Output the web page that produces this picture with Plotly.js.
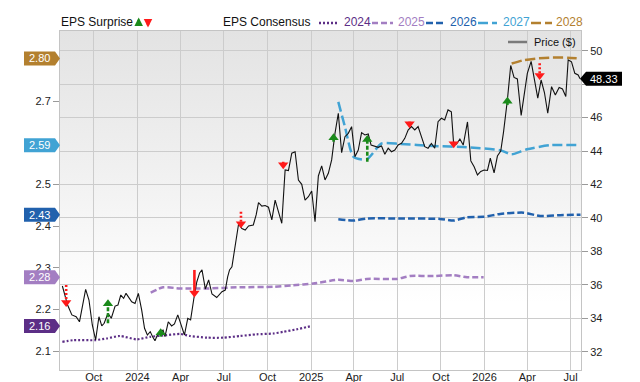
<!DOCTYPE html>
<html><head><meta charset="utf-8">
<script src="https://cdn.plot.ly/plotly-3.0.1.min.js"></script>
<style>html,body{margin:0;padding:0;background:#fff}#chart{width:640px;height:382px}</style>
</head><body><div id="chart"></div>
<script>
// ---------------- DATA ----------------
const priceDates = ['2023-07-27','2023-08-07','2023-08-16','2023-08-25','2023-09-01','2023-09-08','2023-09-14','2023-09-21','2023-09-28','2023-10-05','2023-10-12','2023-10-18','2023-10-23','2023-10-31','2023-11-07','2023-11-15','2023-11-21','2023-11-27','2023-12-03','2023-12-08','2023-12-14','2023-12-20','2023-12-27','2024-01-03','2024-01-10','2024-01-16','2024-01-22','2024-01-28','2024-02-02','2024-02-07','2024-02-12','2024-02-18','2024-02-24','2024-02-28','2024-03-06','2024-03-13','2024-03-19','2024-03-26','2024-04-02','2024-04-09','2024-04-16','2024-04-22','2024-04-29','2024-05-05','2024-05-11','2024-05-16','2024-05-23','2024-05-30','2024-06-06','2024-06-16','2024-06-27','2024-07-04','2024-07-09','2024-07-13','2024-07-18','2024-07-25','2024-08-01','2024-08-08','2024-08-15','2024-08-22','2024-09-01','2024-09-07','2024-09-12','2024-09-19','2024-09-26','2024-10-03','2024-10-10','2024-10-17','2024-10-24','2024-10-31','2024-11-07','2024-11-14','2024-11-21','2024-11-28','2024-12-05','2024-12-12','2024-12-19','2024-12-26','2025-01-02','2025-01-09','2025-01-16','2025-01-23','2025-01-30','2025-02-06','2025-02-13','2025-02-20','2025-02-27','2025-03-06','2025-03-13','2025-03-20','2025-03-27','2025-04-03','2025-04-10','2025-04-17','2025-04-24','2025-05-01','2025-05-07','2025-05-15','2025-05-22','2025-05-29','2025-06-05','2025-06-12','2025-06-19','2025-06-26','2025-07-03','2025-07-10','2025-07-17','2025-07-24','2025-07-31','2025-08-07','2025-08-14','2025-08-21','2025-08-28','2025-09-04','2025-09-11','2025-09-18','2025-09-25','2025-10-02','2025-10-09','2025-10-16','2025-10-23','2025-10-28','2025-11-03','2025-11-10','2025-11-17','2025-11-26','2025-12-03','2025-12-10','2025-12-17','2025-12-24','2025-12-31','2026-01-07','2026-01-13','2026-01-21','2026-01-28','2026-02-04','2026-02-10','2026-02-18','2026-02-25','2026-03-04','2026-03-11','2026-03-19','2026-03-26','2026-04-01','2026-04-09','2026-04-16','2026-04-23','2026-04-30','2026-05-07','2026-05-14','2026-05-22','2026-05-30','2026-06-07','2026-06-14','2026-06-21','2026-06-26','2026-07-03','2026-07-10','2026-07-17','2026-07-21'];
const priceValues = [35.93,34.79,34.20,34.09,33.79,34.89,35.73,35.09,33.60,32.70,34.09,33.54,33.70,34.30,34.00,34.73,34.79,35.39,35.19,35.49,35.25,34.99,34.89,35.49,34.49,33.40,33.00,33.20,32.90,32.66,33.00,33.20,33.30,32.90,33.79,33.54,33.66,34.20,33.60,33.00,34.00,33.90,35.21,36.17,36.71,36.89,35.75,36.29,35.45,35.24,35.59,35.69,36.47,36.89,37.08,38.26,39.64,39.37,39.28,39.52,39.58,40.18,40.91,40.71,40.74,40.64,39.88,41.07,40.37,39.68,42.87,42.83,43.87,43.96,42.27,42.01,41.07,41.27,41.61,39.78,42.51,43.11,42.27,42.67,43.47,45.06,46.26,43.90,44.86,45.06,45.46,43.66,44.06,45.10,44.96,45.02,44.36,44.30,44.22,44.30,43.81,44.17,43.96,44.06,44.36,44.46,44.76,45.26,45.46,45.26,45.46,44.86,44.26,44.17,44.46,44.17,45.76,45.96,45.86,46.46,46.35,44.36,44.42,44.72,44.36,45.74,43.41,43.06,42.57,42.78,42.87,42.84,43.57,42.69,43.70,44.00,45.16,47.05,49.12,48.40,48.31,46.13,47.47,48.65,49.36,48.25,47.16,48.25,47.50,46.26,47.85,47.35,47.80,47.71,47.26,49.45,49.34,48.65,48.55,48.33];

const consensusYears = ['2024','2025','2026','2027','2028'];
const eps2024Dates = ['2023-07-27','2023-08-19','2023-10-03','2023-10-28','2023-11-25','2023-12-30','2024-01-28','2024-03-03','2024-03-31','2024-04-21','2024-05-27','2024-06-30','2024-08-04','2024-09-08','2024-10-13','2024-11-03','2024-12-01','2025-01-02'];
const eps2024 = [2.122,2.126,2.126,2.130,2.136,2.128,2.134,2.138,2.141,2.136,2.132,2.132,2.136,2.140,2.142,2.146,2.152,2.160];
const eps2025Dates = ['2024-01-29','2024-02-24','2024-03-31','2024-05-27','2024-08-04','2024-10-13','2024-11-24','2025-01-05','2025-02-27','2025-03-31','2025-04-28','2025-06-30','2025-07-28','2025-09-15','2025-10-28','2025-11-25','2025-12-30'];
const eps2025 = [2.240,2.253,2.250,2.250,2.253,2.254,2.258,2.262,2.271,2.268,2.273,2.273,2.280,2.280,2.282,2.277,2.277];
const eps2026Dates = ['2025-02-27','2025-03-31','2025-04-28','2025-07-07','2025-09-29','2025-10-28','2025-11-25','2025-12-30','2026-02-03','2026-03-24','2026-04-28','2026-06-09','2026-07-22'];
const eps2026 = [2.416,2.413,2.418,2.418,2.417,2.413,2.421,2.422,2.429,2.432,2.424,2.426,2.427];
const eps2027Dates = ['2025-02-27','2025-03-13','2025-03-31','2025-04-28','2025-05-29','2025-07-07','2025-09-15','2025-11-25','2026-02-03','2026-02-27','2026-03-31','2026-05-19','2026-07-22'];
const eps2027 = [2.698,2.638,2.566,2.560,2.598,2.597,2.592,2.589,2.582,2.572,2.584,2.594,2.594];
const eps2028Dates = ['2026-02-27','2026-03-24','2026-04-21','2026-05-19','2026-06-24','2026-07-20'];
const eps2028 = [2.790,2.798,2.802,2.804,2.804,2.802];

const surpriseDates = ['2023-08-04','2023-10-31','2024-02-19','2024-04-30','2024-08-06','2024-11-03','2025-02-17','2025-04-29','2025-07-27','2025-10-28','2026-02-18','2026-04-27'];
const surpriseFrom = [35.99,33.70,32.90,36.89,40.37,43.36,44.56,43.36,45.76,44.56,46.75,49.25];
const surpriseTo   = [34.67,35.13,33.40,35.24,39.38,42.91,45.06,44.96,45.36,44.17,47.25,48.25];

const xTickDates = ['2023-10-01','2024-01-01','2024-04-01','2024-07-01','2024-10-01','2025-01-01','2025-04-01','2025-07-01','2025-10-01','2026-01-01','2026-04-01','2026-07-01'];
const xTickLabels = ['Oct','2024','Apr','Jul','Oct','2025','Apr','Jul','Oct','2026','Apr','Jul'];
const priceTicks = [32,34,36,38,40,42,44,46,48,50];
const priceTickLabels = ['32','34','36','38','40','42','44','46','','50'];
const epsTicks = [2.1,2.2,2.3,2.4,2.5,2.7];
const epsTickLabels = ['2.1','2.2','2.3','2.4','2.5','2.7'];

// ---------------- STYLE ----------------
const W = 640, H = 382;
const M = {l:60, r:59, t:31, b:12};
const plotW = W - M.l - M.r, plotH = H - M.t - M.b;
const epsRange = [2.0544, 2.868];
const priceRange = [30.906, 51.18];
const xRange = ['2023-07-22', '2026-07-23'];
const FONT = 'Liberation Sans, Arial, sans-serif';
const seriesStyle = {
  '2024': {color:'#5c2e86', dash:'2px,2px', width:2.2},
  '2025': {color:'#a37ec2', dash:'6px,3px', width:2.5},
  '2026': {color:'#2161ad', dash:'7px,3px', width:2.5},
  '2027': {color:'#41a3d4', dash:'10px,4px', width:2.5},
  '2028': {color:'#b3802f', dash:'10px,4px', width:2.5}
};
const shaftDash = ['2px,2px','4px,2px','4px,2px','solid','2px,2px','2px,2px','4px,2px','4px,2px','2px,2px','2px,2px','4px,2px','2px,2px'];
const UP = '#1a8a1a', DOWN = '#ff1a1a';

const pxX = px => (px - M.l) / plotW;
const pxY = py => (H - M.b - py) / plotH;
const epsP = v => (v - epsRange[0]) / (epsRange[1] - epsRange[0]);
const priceP = v => (v - priceRange[0]) / (priceRange[1] - priceRange[0]);
const pricePerPx = (priceRange[1] - priceRange[0]) / plotH;

const series = {
  '2024': [eps2024Dates, eps2024], '2025': [eps2025Dates, eps2025], '2026': [eps2026Dates, eps2026],
  '2027': [eps2027Dates, eps2027], '2028': [eps2028Dates, eps2028]
};

const traces = [];
consensusYears.forEach(yr => {
  const s = seriesStyle[yr];
  traces.push({x: series[yr][0], y: series[yr][1], type:'scatter', mode:'lines', yaxis:'y',
    line:{color:s.color, dash:s.dash, width:s.width, shape:'spline', smoothing:0.6}, hoverinfo:'skip'});
});
traces.push({x: priceDates, y: priceValues, type:'scatter', mode:'lines', yaxis:'y2',
  line:{color:'#111', width:1.1}, hoverinfo:'skip'});

// surprise arrows
const headSize = 9, headR = headSize/2;
const upHeads = {x:[], y:[]}, downHeads = {x:[], y:[]};
surpriseDates.forEach((d, i) => {
  const up = surpriseTo[i] > surpriseFrom[i];
  const off = headR * pricePerPx * (up ? -1 : 1);
  const center = surpriseTo[i] + off;
  traces.push({x:[d, d], y:[surpriseFrom[i], center], type:'scatter', mode:'lines', yaxis:'y2',
    line:{color: up ? UP : DOWN, width:2.6, dash: shaftDash[i]}, hoverinfo:'skip'});
  const h = up ? upHeads : downHeads;
  h.x.push(d); h.y.push(center);
});
traces.push({x:upHeads.x, y:upHeads.y, type:'scatter', mode:'markers', yaxis:'y2',
  marker:{symbol:'triangle-up', size:headSize, color:UP, line:{width:0}}, hoverinfo:'skip'});
traces.push({x:downHeads.x, y:downHeads.y, type:'scatter', mode:'markers', yaxis:'y2',
  marker:{symbol:'triangle-down', size:headSize, color:DOWN, line:{width:0}}, hoverinfo:'skip'});

// ---------------- DECORATION ----------------
const shapes = [], annotations = [];
const legY = pxY(22);
annotations.push({xref:'paper', yref:'paper', x:pxX(59), y:legY, xanchor:'left', yanchor:'middle',
  text:'EPS Surprise', showarrow:false, font:{family:FONT, size:12, color:'#111'}});
annotations.push({xref:'paper', yref:'paper', x:pxX(138.7), y:pxY(17.5), text:'', showarrow:true,
  ax:0, ay:10, arrowhead:2, arrowsize:0.65, arrowwidth:2.6, arrowcolor:UP});
annotations.push({xref:'paper', yref:'paper', x:pxX(148), y:pxY(27.5), text:'', showarrow:true,
  ax:0, ay:-10, arrowhead:2, arrowsize:0.65, arrowwidth:2.6, arrowcolor:DOWN});
annotations.push({xref:'paper', yref:'paper', x:pxX(221), y:legY, xanchor:'left', yanchor:'middle',
  text:'EPS Consensus', showarrow:false, font:{family:FONT, size:12, color:'#111'}});
const legLines = {'2024':[319,338,342],'2025':[372,393,396],'2026':[426,446,448],'2027':[478,497,501],'2028':[531,552,554]};
consensusYears.forEach(yr => {
  const s = seriesStyle[yr], p = legLines[yr];
  shapes.push({type:'line', xref:'paper', yref:'paper', x0:pxX(p[0]), x1:pxX(p[1]), y0:pxY(23), y1:pxY(23),
    line:{color:s.color, width:2.5, dash:s.dash}});
  annotations.push({xref:'paper', yref:'paper', x:pxX(p[2]), y:legY, xanchor:'left', yanchor:'middle',
    text:yr, showarrow:false, font:{family:FONT, size:12, color:s.color}});
});
// Price legend inside plot
shapes.push({type:'line', xref:'paper', yref:'paper', x0:pxX(508), x1:pxX(527), y0:pxY(42), y1:pxY(42),
  line:{color:'#7a7a7a', width:2.5}});
annotations.push({xref:'paper', yref:'paper', x:pxX(532), y:pxY(42), xanchor:'left', yanchor:'middle',
  text:'Price ($)', showarrow:false, font:{family:FONT, size:11, color:'#111'}});

// left value tags
const tagH = 7 / plotH;
consensusYears.forEach(yr => {
  const vals = series[yr][1];
  const v = vals[vals.length - 1];
  const yc = epsP(v), x0 = pxX(24), x1 = pxX(55), xt = pxX(60);
  shapes.push({type:'path', xref:'paper', yref:'paper', layer:'above',
    path:`M ${x0},${yc-tagH} L ${x1},${yc-tagH} L ${xt},${yc} L ${x1},${yc+tagH} L ${x0},${yc+tagH} Z`,
    fillcolor:seriesStyle[yr].color, line:{width:0}});
  annotations.push({xref:'paper', yref:'paper', x:pxX(39), y:yc, xanchor:'center', yanchor:'middle',
    text:v.toFixed(2), showarrow:false, font:{family:FONT, size:11, color:'#fff'}});
});
// right price tag
{
  const v = priceValues[priceValues.length - 1];
  const yc = priceP(v), xt = pxX(580), x1 = pxX(586), x0 = pxX(622);
  shapes.push({type:'path', xref:'paper', yref:'paper', layer:'above',
    path:`M ${xt},${yc} L ${x1},${yc+tagH} L ${x0},${yc+tagH} L ${x0},${yc-tagH} L ${x1},${yc-tagH} Z`,
    fillcolor:'#000', line:{width:0}});
  annotations.push({xref:'paper', yref:'paper', x:pxX(604), y:yc, xanchor:'center', yanchor:'middle',
    text:v.toFixed(2), showarrow:false, font:{family:FONT, size:11, color:'#fff'}});
}

const svg = "<svg xmlns='http://www.w3.org/2000/svg' viewBox='0 0 10 100' width='10' height='100' preserveAspectRatio='none'>" +
  "<defs><linearGradient id='g' x1='0' y1='0' x2='0' y2='1'><stop offset='0' stop-color='#e3e3e3'/>" +
  "<stop offset='0.4' stop-color='#f0f0f0'/><stop offset='0.8' stop-color='#ffffff'/></linearGradient></defs>" +
  "<rect x='0' y='0' width='10' height='100' fill='url(#g)'/></svg>";

const layout = {
  width: W, height: H, margin: M, showlegend: false,
  paper_bgcolor:'#fff', plot_bgcolor:'rgba(0,0,0,0)',
  font:{family:FONT, size:11, color:'#222'},
  xaxis:{type:'date', range:xRange, tickvals:xTickDates, ticktext:xTickLabels, showgrid:true,
    gridcolor:'#cccccc', gridwidth:1, ticks:'', ticklen:0, ticklabelstandoff:-3, showline:true, mirror:true, linecolor:'#c4c4c4',
    zeroline:false, automargin:false, tickfont:{size:11, color:'#222'}, fixedrange:true},
  yaxis:{range:epsRange, tickvals:epsTicks, ticktext:epsTickLabels, showgrid:false, zeroline:false,
    ticks:'outside', ticklen:6, tickcolor:'#9a9a9a', showline:true, mirror:true, linecolor:'#c4c4c4',
    automargin:false, tickfont:{size:11, color:'#222'}, fixedrange:true},
  yaxis2:{range:priceRange, overlaying:'y', side:'right', tickvals:priceTicks, ticktext:priceTickLabels, showgrid:true,
    gridcolor:'#cccccc', gridwidth:1, zeroline:false, ticks:'outside', ticklen:6, tickcolor:'#9a9a9a',
    showline:false, automargin:false, tickfont:{size:11, color:'#222'}, fixedrange:true},
  images:[{source:'data:image/svg+xml;charset=utf-8,' + encodeURIComponent(svg), xref:'paper', yref:'paper',
    x:0, y:1, sizex:1, sizey:1, sizing:'stretch', xanchor:'left', yanchor:'top', layer:'below'}],
  shapes: shapes, annotations: annotations
};
Plotly.newPlot('chart', traces, layout, {staticPlot:true, displayModeBar:false});
</script>
</body></html>
